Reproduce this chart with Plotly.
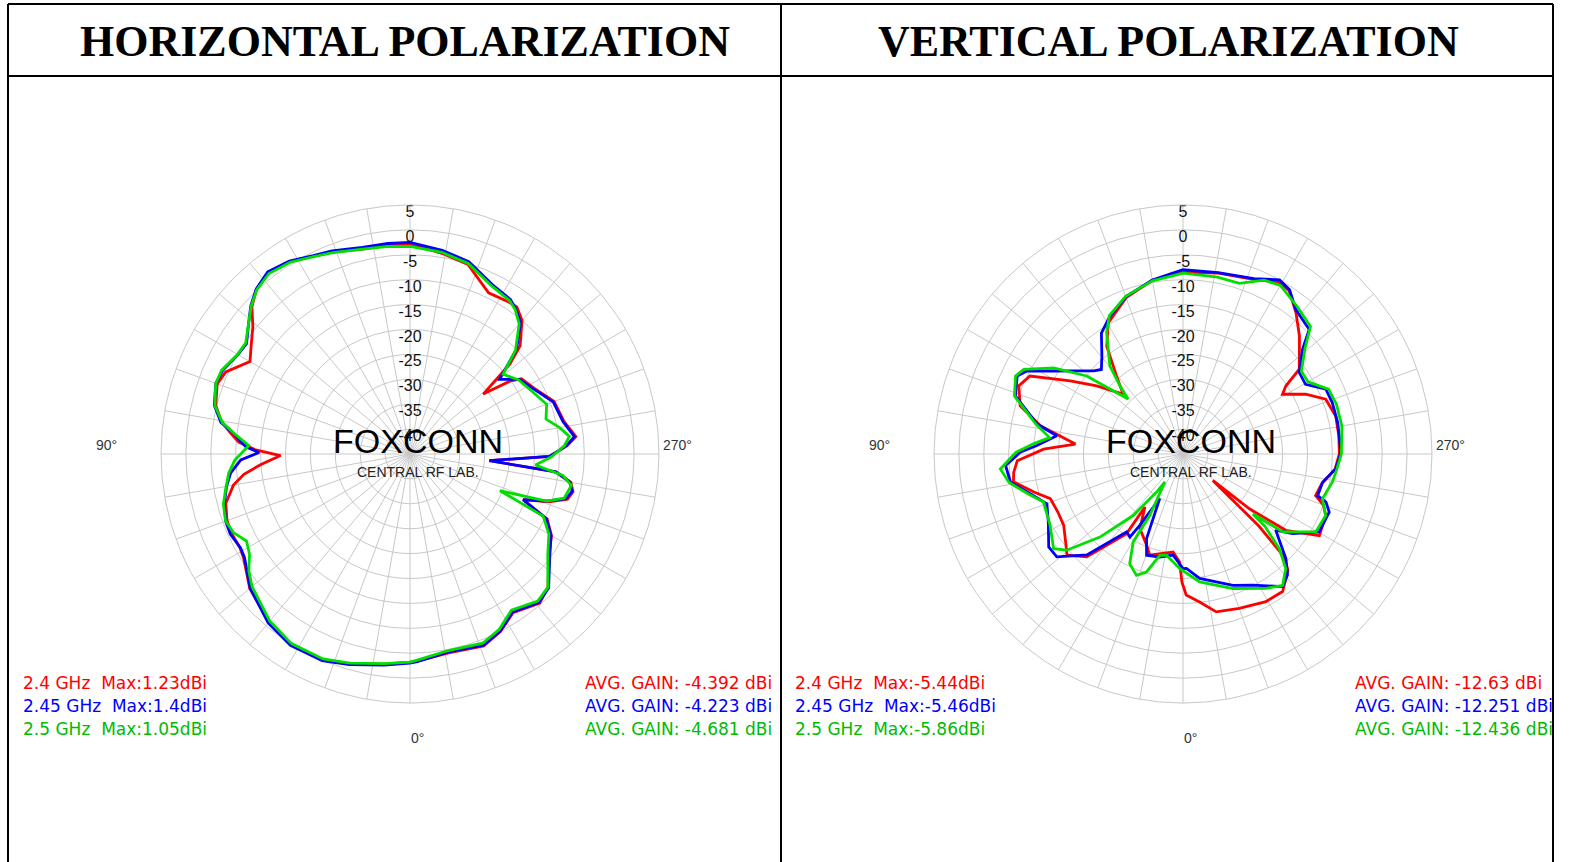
import plotly.graph_objects as go

# ---------------- data (angle in degrees, gain in dBi) ----------------
H_RED_THETA = [0, 7, 16, 23, 32, 40, 50, 58, 61, 66, 70, 75, 80, 83, 86, 89.3, 91.5, 94, 97, 100, 104, 110, 114, 120, 124, 129, 133, 137, 142, 148, 154, 159, 167, 174, 180, 189, 197, 206, 213, 216, 220, 225.5, 228, 230.7, 234, 236, 242, 250, 258, 264, 267, 271, 274.8, 277, 280, 283, 286, 289, 292, 295.4, 300, 306, 314, 319, 327, 333, 339, 349, 358]
H_RED_GAIN = [-3.2, -2.5, -1.2, 0.0, 0.1, -0.9, -3.0, -5.6, -6.0, -5.8, -5.9, -6.7, -9.0, -11.4, -15, -19.0, -14, -10.5, -8.5, -6.5, -4.8, -3.8, -4.5, -7.9, -6.5, -4.4, -1.6, 0.2, 1.2, 0.5, -0.8, -1.6, -2.8, -2.8, -2.8, -4.2, -5.2, -9.0, -8.6, -8.5, -10.0, -14.0, -18, -26.0, -20, -18.0, -16.8, -14.2, -13.4, -11.5, -13.4, -17, -29.0, -15.5, -12.2, -11.4, -12.1, -15.5, -20.5, -14.5, -12.2, -10.5, -6.5, -5.3, -7.0, -5.0, -3.7, -4.3, -3.4]

H_BLUE_THETA = [0, 7, 16, 23, 32, 40, 50, 58, 61, 66, 70, 75, 80, 84, 88, 90.6, 92.5, 96.5, 99.5, 104, 110, 114, 120, 124, 129, 133, 137, 142, 148, 154, 159, 167, 174, 180, 189, 197, 206, 213, 216, 220, 225.5, 230.2, 235.7, 242, 250, 258, 264, 267, 271, 274.8, 277, 280, 283, 286, 289, 292, 295.4, 300, 306, 314, 319, 327, 333, 339, 349, 358]
H_BLUE_GAIN = [-3.0, -2.3, -1.0, 0.1, 0.3, -0.7, -3.1, -5.8, -6.1, -5.5, -5.6, -6.4, -7.6, -8.8, -11.0, -14.7, -12.0, -9.5, -6.5, -4.5, -3.5, -3.8, -5.1, -5.4, -3.3, -1.3, 0.3, 1.4, 0.7, -0.7, -1.3, -2.4, -2.5, -2.5, -3.6, -4.6, -7.2, -8.0, -8.9, -10.5, -15.0, -21.6, -18.4, -17.0, -14.4, -13.6, -11.8, -13.6, -17, -29.0, -15.5, -12.4, -11.6, -12.4, -16, -20.5, -14.7, -12.3, -10.3, -6.3, -5.5, -7.2, -5.1, -3.9, -4.5, -3.3]

H_GREEN_THETA = [0, 7, 16, 23, 32, 40, 50, 54, 58, 62, 66, 70, 75, 80, 84, 88, 93, 96.5, 99.5, 104, 110, 114, 120, 124, 129, 133, 137, 142, 148, 154, 159, 167, 174, 180, 189, 197, 206, 213, 216, 220, 225.5, 229.4, 235.7, 242, 250, 255.6, 260, 263.7, 267, 271, 275, 278, 281, 286, 289, 292.2, 295, 300, 306, 314, 319, 327, 333, 339, 349, 358]
H_GREEN_GAIN = [-3.2, -2.6, -1.3, -0.3, -0.1, -1.2, -3.6, -5.0, -7.0, -7.8, -6.2, -5.6, -6.2, -7.5, -8.4, -9.8, -12.6, -9.6, -6.8, -4.6, -3.5, -3.6, -5.0, -5.2, -3.3, -1.4, 0.1, 1.0, 0.4, -0.9, -1.7, -2.8, -3.1, -3.3, -4.0, -5.0, -7.5, -8.3, -9.1, -10.9, -15.3, -20.4, -18.6, -17.6, -15.8, -16.8, -14.5, -12.8, -14.0, -16.5, -19.7, -14.0, -12.0, -12.8, -16, -25.5, -15.5, -12.8, -10.8, -6.5, -5.9, -7.6, -5.5, -4.3, -4.8, -3.6]

V_RED_THETA = [0.5, 1.8, 5.8, 18.2, 21.8, 30, 35.7, 35.3, 43.1, 48.9, 53, 59.2, 65, 71.4, 75.7, 80.7, 83.8, 87.7, 92, 95.3, 101.2, 106.5, 112.5, 117, 123, 128.3, 135, 139.6, 144.7, 150.3, 160, 170, 180, 191, 202, 209, 213, 218.7, 224.6, 233.9, 236.5, 239, 244, 249, 256, 263.3, 270, 275.6, 282, 287.4, 290, 293.3, 300.9, 306.6, 309.5, 311.6, 313.5, 315.5, 318, 324.1, 330.7, 340, 348.1, 353.6, 358.7]
V_RED_GAIN = [-19.3, -23.3, -25.2, -23.6, -25.3, -27.7, -31.9, -25.4, -16.7, -14.1, -15.5, -17.1, -17.3, -16.9, -14.1, -10.5, -10.8, -11.7, -17.0, -23.3, -15.8, -10.9, -9.3, -10.5, -18.0, -22.9, -28.0, -24.4, -18.5, -14.7, -11.6, -9.6, -8.5, -8.0, -7.2, -5.5, -5.9, -8.7, -11.7, -16.1, -20.2, -21.7, -17.6, -14.3, -13.4, -13.5, -13.6, -14.3, -16.5, -17.1, -15.0, -13.8, -13.1, -19.3, -27.7, -37.0, -24.0, -16.0, -13.5, -10.9, -11.0, -12.0, -12.6, -15.1, -16.7]

V_BLUE_THETA = [0, 5.6, 12.7, 19.8, 23.3, 27.6, 31.2, 32.6, 35.9, 43.6, 50.8, 55.3, 63.2, 69.9, 75.4, 80.7, 86.3, 90.6, 93.3, 98.2, 101.6, 109.1, 115.2, 118, 123, 129, 133, 136, 140.3, 146, 152, 160, 170, 180, 191, 202, 209, 213, 218, 225.4, 228.8, 235, 240.4, 245.6, 251, 258.5, 269.4, 275.6, 281.4, 287.2, 288.6, 291.7, 299.8, 306, 309.4, 315.5, 319.2, 323.1, 332, 339.2, 352.4, 358.3]
V_BLUE_GAIN = [-22.0, -24.6, -23.8, -23.4, -26.5, -34.9, -28.3, -25.2, -25.7, -17.0, -12.3, -12.2, -14.7, -15.9, -13.3, -9.9, -9.3, -12.3, -15.6, -19.4, -15.1, -9.4, -8.2, -9.5, -14.4, -18.5, -20.5, -21.4, -19.5, -15.7, -13.7, -11.4, -9.5, -8.0, -7.9, -7.0, -5.0, -5.7, -8.2, -9.4, -13.1, -16.5, -16.7, -13.5, -13.3, -13.3, -13.3, -14.2, -16.4, -16.7, -14.7, -13.4, -13.5, -17.8, -20.9, -15.5, -12.9, -11.7, -15.2, -16.8, -19.8, -22.0]

V_GREEN_THETA = [1.7, 9.3, 12.9, 17.2, 21, 25.9, 29.5, 28.4, 32.9, 34.8, 39, 45, 50.4, 53.8, 61.7, 71, 75.4, 80.7, 85.3, 90.6, 94, 97, 101.6, 109, 115, 118, 123.7, 129, 135, 137.2, 140.3, 147.8, 152, 160, 170, 180, 191, 198.3, 205, 210, 218, 225, 229, 235, 240, 246, 252, 260, 270, 276, 280.7, 287.8, 293.3, 300.4, 308, 310.6, 311.5, 314.5, 318.1, 322.8, 328.3, 339.7, 352.6]
V_GREEN_GAIN = [-22.0, -24.4, -24.1, -20.2, -18.9, -20.5, -24.7, -31.0, -38.3, -35.7, -29.1, -21.4, -14.7, -12.8, -14.7, -15.4, -13.0, -9.6, -8.2, -11.5, -15.0, -18.0, -14.8, -9.2, -7.9, -8.8, -13.8, -20.1, -29.4, -26.4, -22.0, -16.2, -13.5, -11.3, -9.7, -8.7, -8.8, -8.9, -6.5, -5.9, -7.6, -8.8, -12.5, -16.0, -16.0, -13.0, -12.6, -12.6, -13.2, -14.0, -14.5, -15.6, -13.8, -14.1, -19.6, -26.5, -23.0, -17.9, -14.1, -11.9, -13.3, -16.2, -19.1]

RADIAL_TICKS = [5, 0, -5, -10, -15, -20, -25, -30, -35, -40]
RADIAL_LABELS = ["5", "0", "-5", "-10", "-15", "-20", "-25", "-30", "-35", "-40"]
ANGLE_LABELS = ["90°", "270°", "0°"]

TITLES = ["HORIZONTAL POLARIZATION", "VERTICAL POLARIZATION"]
FREQS = ["2.4 GHz", "2.45 GHz", "2.5 GHz"]
H_MAX = ["1.23", "1.4", "1.05"]
V_MAX = ["-5.44", "-5.46", "-5.86"]
H_AVG = ["-4.392", "-4.223", "-4.681"]
V_AVG = ["-12.63", "-12.251", "-12.436"]

LINE_COLORS = ["#ff0000", "#0000ff", "#00e000"]
TEXT_COLORS = ["#ff0000", "#0000ff", "#00bb00"]

# ---------------- layout geometry (pixels) ----------------
W, H = 1572, 862
def px(x):
    return x / W
def py(y):
    return 1 - y / H

R = 249
CENTERS = [(410, 454), (1183, 454)]

fig = go.Figure()

series = [
    [(H_RED_THETA, H_RED_GAIN), (H_BLUE_THETA, H_BLUE_GAIN), (H_GREEN_THETA, H_GREEN_GAIN)],
    [(V_RED_THETA, V_RED_GAIN), (V_BLUE_THETA, V_BLUE_GAIN), (V_GREEN_THETA, V_GREEN_GAIN)],
]

for k, (cx, cy) in enumerate(CENTERS):
    pname = "polar" if k == 0 else "polar2"
    sub = "polar" if k == 0 else "polar2"
    for (th, g), col in zip(series[k], LINE_COLORS):
        fig.add_trace(go.Scatterpolar(
            theta=list(th) + [th[0]], r=list(g) + [g[0]], mode="lines",
            line=dict(color=col, width=2.8), subplot=sub, showlegend=False,
            hoverinfo="skip"))
    fig.add_trace(go.Scatterpolar(
        theta=[180] * len(RADIAL_TICKS), r=RADIAL_TICKS, text=RADIAL_LABELS,
        mode="text", textposition="bottom center", cliponaxis=False,
        textfont=dict(family="Liberation Sans", size=16, color="#111111"),
        subplot=sub, showlegend=False, hoverinfo="skip"))
    fig.update_layout(**{pname: dict(
        domain=dict(x=[px(cx - R), px(cx + R)], y=[py(cy + R), py(cy - R)]),
        bgcolor="white",
        radialaxis=dict(range=[-45, 5], tickvals=[-40, -35, -30, -25, -20, -15, -10, -5, 0, 5],
                        showticklabels=False, ticks="", showline=False,
                        gridcolor="#c8c8c8", gridwidth=1),
        angularaxis=dict(rotation=270, direction="clockwise",
                         tickvals=list(range(0, 360, 10)), showticklabels=False,
                         ticks="", gridcolor="#c8c8c8", gridwidth=1,
                         showline=True, linecolor="#c8c8c8", linewidth=1),
    )})

annotations = []
shapes = []

# table frame
frame = [(8, 4, 8, H), (1553, 4, 1553, H), (781, 4, 781, H), (8, 4, 1553, 4), (8, 76, 1553, 76)]
for x0, y0, x1, y1 in frame:
    shapes.append(dict(type="line", xref="paper", yref="paper", x0=px(x0), y0=py(y0),
                       x1=px(x1), y1=py(y1), line=dict(color="black", width=2), layer="above"))

title_x = [405, 1168]
for t, tx in zip(TITLES, title_x):
    annotations.append(dict(text=t, x=px(tx), y=py(41), xref="paper", yref="paper",
                            showarrow=False, xanchor="center", yanchor="middle",
                            font=dict(family="Liberation Serif", size=44, color="black", weight="bold")))

label_pos = [(106, 445), (677, 445), (417, 738)]
for k, (cx, cy) in enumerate(CENTERS):
    dx = cx - CENTERS[0][0]
    for lab, (lx, ly) in zip(ANGLE_LABELS, label_pos):
        annotations.append(dict(text=lab, x=px(lx + dx), y=py(ly), xref="paper", yref="paper",
                                showarrow=False, xanchor="center", yanchor="middle",
                                font=dict(family="Liberation Sans", size=14, color="#333333")))
    annotations.append(dict(text="FOXCONN", x=px(cx + 8), y=py(441), xref="paper", yref="paper",
                            showarrow=False, xanchor="center", yanchor="middle",
                            font=dict(family="Liberation Sans", size=34, color="black")))
    annotations.append(dict(text="CENTRAL RF LAB.", x=px(cx + 8), y=py(472), xref="paper", yref="paper",
                            showarrow=False, xanchor="center", yanchor="middle",
                            font=dict(family="Liberation Sans", size=14, color="#222222")))

legend_y = [683, 706, 729]
max_sets = [H_MAX, V_MAX]
avg_sets = [H_AVG, V_AVG]
left_x = [21, 793]
right_x = [583, 1353]
for k in range(2):
    for i in range(3):
        annotations.append(dict(text=f"{FREQS[i]}  Max:{max_sets[k][i]}dBi",
                                x=px(left_x[k]), y=py(legend_y[i]), xref="paper", yref="paper",
                                showarrow=False, xanchor="left", yanchor="middle",
                                font=dict(family="DejaVu Sans", size=17, color=TEXT_COLORS[i])))
        annotations.append(dict(text=f"AVG. GAIN: {avg_sets[k][i]} dBi",
                                x=px(right_x[k]), y=py(legend_y[i]), xref="paper", yref="paper",
                                showarrow=False, xanchor="left", yanchor="middle",
                                font=dict(family="DejaVu Sans", size=17, color=TEXT_COLORS[i])))

fig.update_layout(width=W, height=H, margin=dict(l=0, r=0, t=0, b=0),
                  paper_bgcolor="white", plot_bgcolor="white",
                  annotations=annotations, shapes=shapes, showlegend=False)

fig.write_html("out.html", config={"displayModeBar": False},
               post_script="document.body.style.margin='0';document.body.style.overflow='hidden';")
